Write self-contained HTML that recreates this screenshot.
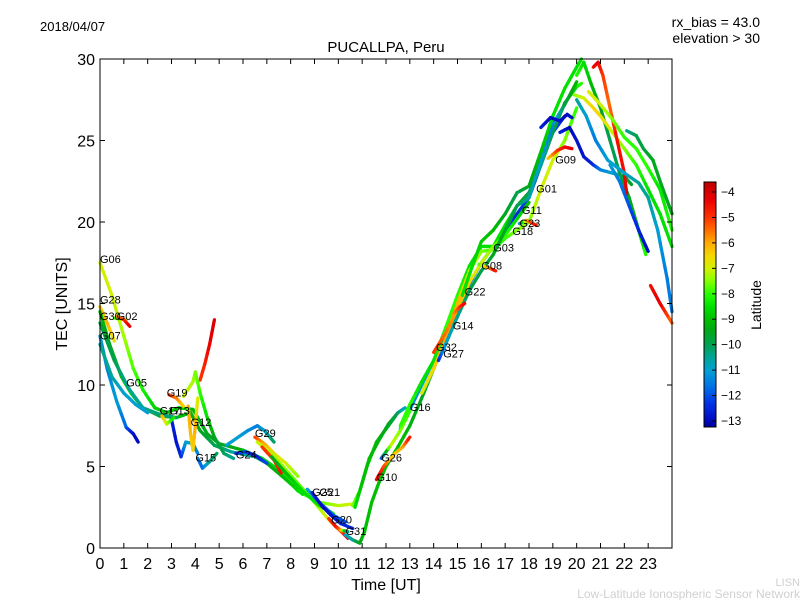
<!DOCTYPE html>
<html><head><meta charset="utf-8"><style>
body{margin:0;background:#fff;}
svg{display:block;font-family:"Liberation Sans","DejaVu Sans",sans-serif;}
</style></head><body>
<svg id="chart" width="800" height="600" xmlns="http://www.w3.org/2000/svg">
<defs><linearGradient id="jet" x1="0" y1="1" x2="0" y2="0"></linearGradient></defs>
<text x="40" y="31" font-size="13">2018/04/07</text>
<text x="760" y="27" font-size="14" text-anchor="end">rx_bias = 43.0</text>
<text x="760" y="43" font-size="14" text-anchor="end">elevation &gt; 30</text>
<text x="386" y="52" font-size="15" text-anchor="middle">PUCALLPA, Peru</text>
<g id="marks"></g>
<g id="axes"></g>
<text x="386" y="590" font-size="16" text-anchor="middle">Time [UT]</text>
<text transform="translate(67,304) rotate(-90)" font-size="16" text-anchor="middle">TEC [UNITS]</text>
<rect x="704" y="182" width="12" height="245" fill="url(#jet)" stroke="#000" stroke-width="1"/>
<g id="cbticks"></g>
<text transform="translate(761,305) rotate(-90)" font-size="14" text-anchor="middle">Latitude</text>
<text x="800" y="586" font-size="11" fill="#d0d0d0" text-anchor="end">LISN</text>
<text x="800" y="598" font-size="12" fill="#d0d0d0" text-anchor="end">Low-Latitude Ionospheric Sensor Network</text>
</svg>
<script>
const xTicks=[0,1,2,3,4,5,6,7,8,9,10,11,12,13,14,15,16,17,18,19,20,21,22,23];
const yTicks=[0,5,10,15,20,25,30];
const cbTicks=[-4,-5,-6,-7,-8,-9,-10,-11,-12,-13];
// tracks: [time, tec, latitude]
const trackNames=["G06","G28","G30","G02","G07","G05","blue1","teal1","G19","G13","G12","red1","peak1","G15","G17","cyan1","G29","G24","desc1","desc2","desc3","desc4","G25","G20","G31","up1","up2","G16","G26","G10","rise1","rise2","rise3","rise4","rise5","G08","G23","G22","G09","blue2","blue3","peakG","peakY","peakR","cyan2","teal2","green3","red2","green4"];
const tracks=[
[[0,17.5,-7],[0.5,15.5,-7],[1,13,-7.3],[1.4,11,-7.8],[1.8,9.7,-8.2],[2.3,8.6,-8.7],[2.8,8.3,-9],[3.3,8.6,-8.6],[3.9,8.5,-9],[4.5,7,-9.5],[5,6.4,-9.6],[6,6,-9.3],[6.8,5.5,-8.5],[7.5,4.8,-8.5],[8.3,3.5,-8.2],[9.2,2.8,-7.8],[10,2.6,-7.2],[10.6,2.7,-7]],
[[0,14.8,-6.5],[0.3,13.8,-6],[0.6,12.7,-6.8]],
[[0.6,14.1,-8],[1.1,14.0,-7]],
[[0.7,14.2,-6],[1.0,14.0,-5],[1.25,13.6,-4.2]],
[[0,14.5,-9],[0.4,12.5,-9.5],[0.9,10.5,-9],[1.3,9.5,-8.5],[1.8,8.6,-9.5],[2.5,8.1,-9.8],[3.2,8,-9],[3.8,8.3,-9.2],[4.2,7.2,-9.5],[4.8,6.3,-10],[5.5,5.9,-10.5],[6.5,5.6,-10.5],[7,5.2,-9.5],[7.8,4.2,-9],[8.5,3.3,-8.5]],
[[0,13.8,-9.8],[0.6,11.5,-10],[1.2,9.8,-10.5],[1.8,8.6,-10.5],[2.5,8.2,-10.3],[3.2,8,-10.2]],
[[0,13,-11],[0.3,11,-11.5],[0.7,9,-11],[1.1,7.4,-11.8],[1.4,7,-12.8],[1.6,6.5,-13]],
[[0,12.5,-10.5],[0.5,10.5,-10.5],[1,9.5,-11],[1.5,8.8,-11],[2,8.3,-11]],
[[2.9,9.4,-5],[3.2,9.2,-5.5],[3.5,8.7,-6.5]],
[[3.0,7.9,-12.5],[3.2,6.5,-12.8],[3.4,5.6,-12.5],[3.6,6.5,-11],[3.9,6.4,-11],[4.1,5.8,-11.5]],
[[3.7,8.7,-6],[3.8,7,-6.2],[3.9,6,-6.5],[4,7.5,-6],[4.1,9.2,-7]],
[[4.2,10.3,-5],[4.4,11.3,-4.8],[4.6,12.5,-4.3],[4.8,14.0,-4]],
[[3.5,9.3,-7],[3.9,10.2,-7.3],[4.0,10.8,-7.5],[4.2,9.5,-8],[4.5,8,-8.5],[4.8,6.8,-9.5],[5.2,5.8,-10],[5.6,5.5,-10.5]],
[[4.1,5.5,-11.5],[4.3,4.9,-11.8],[4.6,5.3,-10.5],[4.9,5.8,-10]],
[[2.6,8.1,-6],[2.8,7.6,-7],[3.1,8.0,-8.5]],
[[5.3,6.3,-11],[5.8,6.8,-11],[6.2,7.2,-11.2],[6.6,7.5,-11.5],[6.9,7.2,-11],[7.3,6.5,-10]],
[[6.5,6.8,-5],[6.9,6.4,-6],[7.3,5.8,-6.5],[7.8,5.2,-7],[8.3,4.4,-7.5]],
[[5.7,5.8,-12.5],[6.1,5.9,-12],[6.5,5.7,-12.8],[7,5.2,-12]],
[[6.6,6.5,-7],[7.2,5.8,-7.2],[7.8,4.8,-7.5],[8.4,3.8,-7.8],[9,2.8,-7.5],[9.5,1.9,-7],[9.9,1.3,-6],[10.2,0.9,-5],[10.4,0.6,-4.2]],
[[6.8,6.2,-5],[7.3,5.4,-5],[7.6,4.6,-4.5]],
[[7.2,5.6,-9.5],[7.8,4.6,-9],[8.5,3.5,-8.5],[9.2,2.6,-8.5],[9.8,2.1,-8]],
[[8.7,3.6,-11],[9.2,2.8,-11.5],[9.8,2.0,-12],[10.3,1.6,-12]],
[[8.9,3.4,-12.5],[9.3,2.6,-13],[9.7,2,-12.8],[10.1,1.5,-12.5],[10.6,1.2,-12.5]],
[[9.6,1.8,-5],[9.9,1.3,-4.5],[10.1,1.1,-5.5],[10.4,1,-11]],
[[10.3,0.8,-11],[10.6,0.5,-10.5],[10.9,0.3,-9.5],[11.1,1,-9],[11.4,2.8,-9],[11.7,4,-9],[12,5,-9],[12.5,6.2,-9],[13,7.5,-9.2],[13.5,9.2,-9.5],[14,11,-10],[14.5,12.8,-10.5],[15,14.5,-11],[15.5,16.2,-11.5],[16,17.5,-12],[16.5,18.5,-12],[17,19.5,-12],[17.5,20.5,-12.5],[18,21.5,-12],[18.5,23.5,-12],[19,25.5,-12],[19.5,26.5,-12.5]],
[[10.6,2.6,-7.5],[10.9,3.5,-8],[11.2,5,-8.5],[11.6,6.5,-9],[12,7.3,-9.5],[12.4,8.1,-10]],
[[10.7,2.5,-8.5],[11,4,-9],[11.3,5.5,-9],[11.7,6.6,-9.2],[12.1,7.6,-9.5],[12.5,8.3,-10],[12.8,8.6,-11]],
[[12.6,7.3,-11],[13,8.5,-11.5],[13.5,10,-11],[14,11.5,-10.5],[14.5,13,-10]],
[[11.8,5.5,-12.5],[12.2,6.3,-7],[12.6,7.2,-7.5],[13,8.4,-8]],
[[11.6,4.2,-4.2],[11.9,5,-5],[12.3,5.7,-6.5],[12.7,6.2,-6],[13,6.8,-4.5]],
[[12.6,7.5,-8],[13,8.8,-8],[13.5,10.2,-8.5],[14,11.5,-8.5],[14.5,13.5,-8],[15,15.5,-8],[15.5,17.3,-8.5],[16,18.5,-8.5],[16.5,18.5,-8.5],[17,19.8,-8.5],[17.5,21,-9],[18,21.8,-10],[18.5,23.5,-10.5],[19,25.5,-10],[19.5,27.3,-9.5],[20,28.3,-8.5],[20.2,28.5,-8]],
[[13.5,9.5,-7],[14,11,-6.5],[14.5,12.8,-6],[15,15,-6],[15.5,17,-7],[16,18.2,-7.5],[16.5,18.3,-8],[17,19,-8],[17.5,19.5,-7.5],[18,20,-7.5],[18.5,22,-7],[19,23.8,-7],[19.5,25,-7.5],[20,27,-8]],
[[14,12,-5],[14.5,13.2,-5.5],[15,14.6,-6],[15.5,16.3,-6.5],[16,17.5,-7],[16.5,18.5,-7.5],[17,19.2,-8],[17.5,20.2,-8.5],[18,21.2,-9]],
[[14.2,11.5,-12.5],[14.5,12.5,-11],[15,14.2,-10.5],[15.5,15.8,-10],[16,17,-10],[16.5,18,-9.5],[17,19.5,-9.5],[17.5,21,-10],[18,21.5,-10.5],[18.5,23.8,-11],[19,26,-11.5],[19.5,27.2,-10],[20,28.6,-9]],
[[15.2,15.5,-8.5],[15.6,17.2,-8.5],[16,18.8,-8.8],[16.5,19.5,-9],[17,20.5,-9.5],[17.5,21.8,-10],[18,22.2,-9.5],[18.5,24.3,-9],[19,26.5,-8.5],[19.5,28.2,-8.5],[20,29.5,-8.5],[20.2,30,-8.5]],
[[15.9,17.4,-8],[16.3,17.2,-6],[16.6,17.0,-4.5]],
[[17.6,19.9,-12],[17.9,20.1,-6],[18.3,19.8,-4.5]],
[[14.8,14.3,-6],[15.1,14.8,-5],[15.3,15,-4.3]],
[[18.8,23.9,-6.5],[19.2,24.4,-5],[19.5,24.6,-4.5],[19.8,24.5,-4.2]],
[[18.5,25.8,-12.5],[18.9,26.4,-13],[19.3,26.2,-12.8],[19.6,26.6,-13],[19.8,26.4,-12.8]],
[[19.3,25.5,-12.5],[19.7,25.8,-13],[20,25.0,-12.8],[20.3,24,-12.8],[20.7,23.5,-12.5],[21,23.2,-11.5],[21.5,23,-11],[22,22.8,-10],[22.3,22.3,-9.5]],
[[20,29,-8],[20.3,29.8,-8.5],[20.6,28.5,-9],[21,27,-9.5],[21.4,25,-10],[21.8,23,-10],[22.2,21.5,-9.5],[22.6,19.5,-9],[22.9,18,-8]],
[[19.9,27.8,-7.5],[20.3,27.6,-7],[20.7,27,-6.5],[21,26.5,-6.5],[21.5,25.5,-7],[22,24.5,-7.5],[22.5,23.5,-8],[23,22,-8.5],[23.5,20.5,-8.5],[24,18.5,-8.5]],
[[20.7,29.5,-4.5],[20.9,29.8,-4.2],[21.1,29,-5],[21.4,27,-5.5],[21.7,25,-4.5],[22,23,-4.5],[22.1,21.7,-4.2]],
[[20,27.5,-10.5],[20.4,26.5,-11],[20.8,25,-11.5],[21.3,23.8,-11],[22,23,-11],[22.6,22.4,-10.5],[23,21.5,-10.5],[23.4,19.5,-11],[23.8,16.5,-11.5],[24,14.5,-11.5]],
[[22.1,25.6,-10.5],[22.5,25.3,-10],[22.8,24.5,-9.8],[23.2,23.8,-9.5],[23.5,22.5,-9.5],[24,20.5,-9.5]],
[[21.4,23.5,-11],[21.8,22.5,-11.5],[22.2,21,-12],[22.6,19.5,-12.5],[23,18.2,-13]],
[[23.1,16.1,-4.5],[23.5,15,-4.2],[24,13.8,-5.5]],
[[20.5,28,-7],[21,27.2,-7],[21.5,26.3,-7.5],[22,25.2,-8],[22.5,24.5,-8],[23,23.3,-8],[23.5,22,-8.5],[24,19.5,-8]]
];
const labels=[["G06",0,17.5],["G28",0,15],["G30",0,14],["G02",0.7,14],["G07",0,12.8],["G05",1.1,9.9],["G19",2.8,9.3],["G17",2.5,8.2],["G13",2.9,8.2],["G12",3.8,7.5],["G15",4,5.3],["G24",5.7,5.5],["G29",6.5,6.8],["G25",8.9,3.2],["G21",9.2,3.2],["G20",9.7,1.5],["G31",10.3,0.8],["G10",11.6,4.1],["G26",11.8,5.3],["G16",13,8.4],["G32",14.1,12.1],["G27",14.4,11.7],["G14",14.8,13.4],["G22",15.3,15.5],["G08",16,17.1],["G03",16.5,18.2],["G18",17.3,19.2],["G23",17.6,19.7],["G11",17.7,20.5],["G01",18.3,21.8],["G09",19.1,23.6]];

const X0=100,X1=672,Y0=548,Y1=59;
const xs=t=>X0+(X1-X0)*t/24;
const ys=v=>Y0-(Y0-Y1)*v/30;
const cbY=l=>192+(l+4)*(421-192)/(-9);
const cmap=[[-13.24,[0,0,150]],[-13,[0,8,190]],[-12.3,[0,50,230]],[-11.7,[0,110,230]],[-11,[0,160,210]],[-10.5,[0,165,150]],[-10,[0,160,80]],[-9.4,[0,170,20]],[-9,[0,190,0]],[-8.5,[0,225,0]],[-8,[40,255,0]],[-7.4,[150,255,0]],[-7,[210,240,0]],[-6.5,[245,215,0]],[-6,[255,170,0]],[-5.5,[255,110,0]],[-5,[255,50,0]],[-4.3,[235,0,0]],[-3.6,[190,0,0]]];
function jet(l){
  if(l<=cmap[0][0]) return `rgb(${cmap[0][1].join(',')})`;
  for(let i=0;i<cmap.length-1;i++){
    const a=cmap[i],b=cmap[i+1];
    if(l<=b[0]){const u=(l-a[0])/(b[0]-a[0]);
      const c=a[1].map((v,k)=>Math.round(v+(b[1][k]-v)*u));return `rgb(${c.join(',')})`;}
  }
  return `rgb(${cmap[cmap.length-1][1].join(',')})`;
}
const NS="http://www.w3.org/2000/svg";
const grad=document.getElementById('jet');
cmap.forEach(s=>{const st=document.createElementNS(NS,'stop');
  st.setAttribute('offset',((s[0]+13.24)/9.64).toFixed(3));st.setAttribute('stop-color',`rgb(${s[1].join(',')})`);grad.appendChild(st);});
const marks=document.getElementById('marks');
tracks.forEach((tr,i)=>{
  const g=document.createElementNS(NS,'g');
  
  
  for(let k=0;k<tr.length-1;k++){
    const a=tr[k],b=tr[k+1];
    const n=4;
    for(let s=0;s<n;s++){
      const u0=s/n,u1=(s+1)/n;
      const ln=document.createElementNS(NS,'line');
      ln.setAttribute('x1',xs(a[0]+(b[0]-a[0])*u0));ln.setAttribute('y1',ys(a[1]+(b[1]-a[1])*u0));
      ln.setAttribute('x2',xs(a[0]+(b[0]-a[0])*u1));ln.setAttribute('y2',ys(a[1]+(b[1]-a[1])*u1));
      ln.setAttribute('stroke',jet(a[2]+(b[2]-a[2])*(u0+u1)/2));
      ln.setAttribute('stroke-width','3.3');ln.setAttribute('stroke-linecap','round');
      g.appendChild(ln);
    }
  }
  marks.appendChild(g);
});
labels.forEach(l=>{
  const t=document.createElementNS(NS,'text');
  
  
  t.setAttribute('x',xs(l[1]));t.setAttribute('y',ys(l[2]));t.setAttribute('font-size','11');
  t.textContent=l[0];marks.appendChild(t);
});
const axes=document.getElementById('axes');
const frame=document.createElementNS(NS,'rect');


frame.setAttribute('x',X0);frame.setAttribute('y',Y1);frame.setAttribute('width',X1-X0);frame.setAttribute('height',Y0-Y1);
frame.setAttribute('fill','none');frame.setAttribute('stroke','#000');frame.setAttribute('stroke-width','1');
axes.appendChild(frame);
xTicks.forEach(v=>{
  const x=xs(v);
  [[Y0,Y0-5],[Y1,Y1+5]].forEach(p=>{const l=document.createElementNS(NS,'line');
    
    
    l.setAttribute('x1',x);l.setAttribute('x2',x);l.setAttribute('y1',p[0]);l.setAttribute('y2',p[1]);l.setAttribute('stroke','#000');axes.appendChild(l);});
  const t=document.createElementNS(NS,'text');
  
  
  t.setAttribute('x',x);t.setAttribute('y',569);t.setAttribute('font-size','16');t.setAttribute('text-anchor','middle');t.textContent=v;axes.appendChild(t);
});
yTicks.forEach(v=>{
  const y=ys(v);
  [[X0,X0+5],[X1,X1-5]].forEach(p=>{const l=document.createElementNS(NS,'line');
    
    
    l.setAttribute('x1',p[0]);l.setAttribute('x2',p[1]);l.setAttribute('y1',y);l.setAttribute('y2',y);l.setAttribute('stroke','#000');axes.appendChild(l);});
  const t=document.createElementNS(NS,'text');
  
  
  t.setAttribute('x',95);t.setAttribute('y',y+6);t.setAttribute('font-size','16');t.setAttribute('text-anchor','end');t.textContent=v;axes.appendChild(t);
});
const cb=document.getElementById('cbticks');
cbTicks.forEach(v=>{
  const y=cbY(v);
  const l=document.createElementNS(NS,'line');
  
  
  l.setAttribute('x1',712);l.setAttribute('x2',716);l.setAttribute('y1',y);l.setAttribute('y2',y);l.setAttribute('stroke','#000');cb.appendChild(l);
  const t=document.createElementNS(NS,'text');
  
  
  t.setAttribute('x',721);t.setAttribute('y',y+4);t.setAttribute('font-size','12');t.textContent='\u2212'+Math.abs(v);cb.appendChild(t);
});
</script>
</body></html>
